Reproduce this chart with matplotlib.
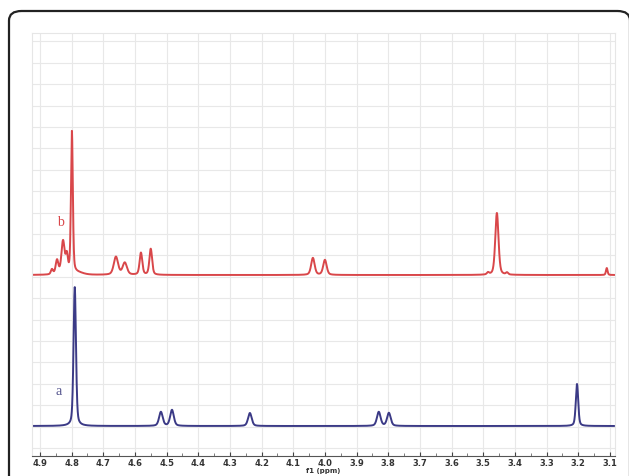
import numpy as np
import matplotlib
matplotlib.use("Agg")
import matplotlib.pyplot as plt
from matplotlib.patches import FancyBboxPatch

# ---- peak lists (ppm, height in px above baseline, half width in ppm)
a_center = [4.790, 4.518, 4.483, 4.237, 3.830, 3.798, 3.204]
a_height = [139, 14, 16, 13, 14, 13, 42]
a_width = [0.0045, 0.0068, 0.0068, 0.0068, 0.0068, 0.0068, 0.0045]

b_center = [4.862, 4.846, 4.827, 4.815, 4.799, 4.780, 4.660, 4.632, 4.581, 4.550,
            4.038, 4.000, 3.485, 3.457, 3.425, 3.110]
b_height = [5, 14, 33, 17, 142, 2, 18, 12, 22, 26, 17, 15, 2, 62, 2, 7]
b_width = [0.004, 0.005, 0.006, 0.004, 0.0035, 0.02, 0.008, 0.008, 0.005, 0.005,
           0.0065, 0.0065, 0.004, 0.006, 0.004, 0.003]

a_offset = 30   # baseline of spectrum a
b_offset = 181  # baseline of spectrum b

xticks = [4.9, 4.8, 4.7, 4.6, 4.5, 4.4, 4.3, 4.2, 4.1, 4.0,
          3.9, 3.8, 3.7, 3.6, 3.5, 3.4, 3.3, 3.2, 3.1]

RED = "#d9474a"
BLUE = "#3b3a86"


def spectrum(x, centers, heights, widths, eta=0.4):
    y = np.zeros_like(x)
    for c, h, w in zip(centers, heights, widths):
        lor = w ** 2 / ((x - c) ** 2 + w ** 2)
        gau = np.exp(-np.log(2) * ((x - c) / w) ** 2)
        y += h * (eta * lor + (1 - eta) * gau)
    return y


x = np.linspace(4.925, 3.084, 5000)
ya = spectrum(x, a_center, a_height, a_width) + a_offset
yb = spectrum(x, b_center, b_height, b_width) + b_offset

fig = plt.figure(figsize=(6.29, 4.76), dpi=100)
W, H = 629, 476

# rounded frame round the picture
frame = FancyBboxPatch((9 / W, -0.2), (621 / W), (465 / H) + 0.2,
                       boxstyle="round,pad=0,rounding_size=0.02",
                       transform=fig.transFigure, fill=False,
                       edgecolor="#222222", linewidth=1.6, clip_on=False)
fig.patches.append(frame)

ax = fig.add_axes([32 / W, (H - 456) / H, (615 - 32) / W, (456 - 33) / H])
ax.set_xlim(4.925, 3.084)
ax.set_ylim(0, 423)

ax.plot(x, yb, color=RED, linewidth=1.4)
ax.plot(x[x > 3.087], ya[x > 3.087], color=BLUE, linewidth=1.4)

ax.text(4.847, 230, "b", color=RED, fontsize=10, family="Liberation Serif")
ax.text(4.851, 61, "a", color="#55558e", fontsize=10, family="Liberation Serif")

# grid
ax.set_xticks(xticks)
ax.set_xticklabels([f"{t:.1f}" for t in xticks])
ax.set_xticks(np.arange(3.15, 4.9, 0.1), minor=True)
ax.set_yticks(np.arange(8, 423, 21.4))
ax.tick_params(axis="y", left=False, labelleft=False)
ax.grid(True, color="#e8e8e8", linewidth=0.8)
ax.set_axisbelow(True)

ax.tick_params(axis="x", which="major", direction="in", length=3, width=0.8,
               color="#444444", pad=2.5, labelsize=6, labelcolor="#333333")
ax.tick_params(axis="x", which="minor", direction="in", length=2, width=0.6,
               color="#666666")
for lab in ax.get_xticklabels():
    lab.set_fontweight("bold")

for side in ["left", "top", "right"]:
    ax.spines[side].set_color("#e6e6e6")
    ax.spines[side].set_linewidth(0.8)
ax.spines["bottom"].set_color("#555555")
ax.spines["bottom"].set_linewidth(0.8)

ax.set_xlabel("f1 (ppm)", fontsize=5, fontweight="bold", color="#333333",
              labelpad=-0.5)

fig.savefig("out.png", dpi=100)
